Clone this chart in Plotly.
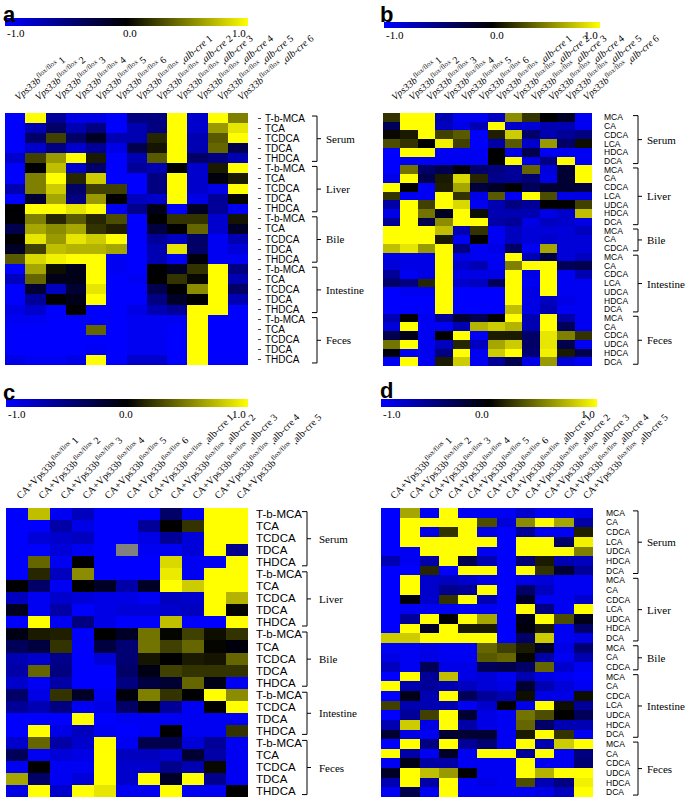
import plotly.graph_objects as go

W, H = 688, 798

# ---------------- data ----------------
a_cols = ["<i>Vps33b</i><sup>flox/flox</sup> %d" % i for i in range(1, 7)] + \
         ["<i>Vps33b</i><sup>flox/flox</sup> ,<i>alb-cre</i> %d" % i for i in range(1, 7)]
a_rows = ["T-b-MCA", "TCA", "TCDCA", "TDCA", "THDCA"] * 5
a_groups = [("Serum", 5), ("Liver", 5), ("Bile", 5), ("Intestine", 5), ("Feces", 5)]
a_z = [
    [-1, 1, -0.6, -0.9, -0.9, -1, -0.5, -0.5, 1, -0.8, 1, 0.5],
    [-1, -0.7, -0.4, -0.7, -0.5, -1, -0.7, -0.5, 1, -0.8, 0.6, 0.9],
    [-1, -0.4, 0.25, -0.4, -0.15, -0.7, -0.7, 0.15, 1, -0.7, 0.35, 1],
    [-1, -0.8, -0.5, -0.8, -0.6, -0.9, -0.3, 0.08, 1, -0.7, 0.4, -0.3],
    [-0.8, 0.25, 0.6, 1, 0.1, -1, -0.7, 0.35, 1, -0.4, -0.5, -0.7],
    [-1, 0, 0.75, -0.8, -0.4, -1, -0.6, -0.7, 0, -0.8, 0.1, 1],
    [-1, 0.5, 1, 0.15, 0.8, -1, -1, -0.5, 1, -0.8, -0.05, 0.1],
    [-0.7, 0.5, 0.8, -0.4, 0.25, 0.25, -1, -0.5, 1, -0.8, -0.9, 1],
    [-1, -0.2, 0.65, -0.5, 0.6, 0, -0.75, -0.8, 1, -0.9, -0.6, 0.02],
    [0, 1, 1, 0.9, 1, -0.95, -0.55, -0.1, -1, -0.15, -0.6, -0.95],
    [-0.02, 0.5, 0.15, 0.35, 0.15, 0.3, -1, 0, 0.2, 0.2, -0.8, 0.08],
    [-0.3, 0.65, 0.55, 0.65, 0.2, 0.12, -1, -0.25, 0, 0.4, -0.8, -0.15],
    [0, 0.9, 0.6, 0.9, 0.8, 1, -1, -0.6, -0.75, -0.4, -0.95, -0.7],
    [-0.15, 0.25, 0.75, 0.7, 0.7, 0.65, -1, -0.7, 0.9, -0.4, -0.95, -0.85],
    [0.35, 0.85, 0.95, 1, 1, -0.95, -1, -0.7, -0.95, -0.05, -0.95, -0.95],
    [-1, 0.65, 0.05, -0.1, 1, -0.95, -1, 0, -0.15, 0.2, 1, -0.5],
    [-0.75, 0.4, -0.1, -0.1, 1, -1, -0.95, 0, 0.2, 0.03, 1, -0.7],
    [-1, -0.2, -0.75, -0.2, 0.9, -1, -1, -0.3, 0, 0.55, 1, -0.4],
    [-1, -0.6, 0, -0.1, 1, -1, -1, -0.5, -0.15, 0, 1, -0.7],
    [-0.9, -0.8, -1, 0, -1, -1, -0.9, -0.7, -0.6, 1, 1, -1],
    [-0.95, -0.95, -1, -1, -1, -1, -0.95, -0.95, -0.95, 1, -1, -1],
    [-1, -1, -1, -1, 0.4, -1, -0.95, -0.95, -1, 1, -1, -1],
    [-1, -1, -1, -1, -1, -1, -0.95, -0.95, -1, 1, -1, -1],
    [-1, -1, -1, -1, -0.95, -1, -0.95, -0.95, -1, 1, -1, -1],
    [-0.9, -0.95, -0.95, -0.9, 1, -1, -0.8, -0.8, -1, 1, -1, -1],
]

b_cols = a_cols
b_rows = ["MCA", "CA", "CDCA", "LCA", "HDCA", "DCA",
          "MCA", "CA", "CDCA", "LCA", "UDCA", "HDCA", "DCA",
          "MCA", "CA", "CDCA",
          "MCA", "CA", "CDCA", "LCA", "UDCA", "HDCA", "DCA",
          "MCA", "CA", "CDCA", "UDCA", "HDCA", "DCA"]
b_groups = [("Serum", 6), ("Liver", 7), ("Bile", 3), ("Intestine", 7), ("Feces", 6)]
b_z = [
    [0.2, 1, 1, -0.7, -0.95, -0.95, -0.75, 0.55, 0.2, 0, -0.15, -0.95],
    [-0.35, 1, 1, -0.75, -0.9, -0.7, 1, -0.8, -0.85, -0.7, -0.7, -0.95],
    [0.03, 0.1, 1, 0.25, 0.35, -1, 0.12, 0.8, -0.4, -0.7, -0.6, -0.5],
    [0.3, 0.2, 0, 0.95, 0.25, -1, -0.65, 0.35, -0.8, 0.6, -0.4, 0.05],
    [-1, 1, 1, -0.95, -0.95, -0.95, 0, -0.9, -0.3, -0.95, -0.95, -0.95],
    [-1, -0.95, -0.95, -0.95, -0.95, -0.95, 0, 1, -0.9, -0.5, 1, -0.95],
    [-1, 0.45, -0.4, -0.3, -0.05, -0.4, -0.5, -0.6, 0.4, -0.85, -0.2, 1],
    [-0.9, 1, -0.3, 0.1, 0.85, 0.15, -0.55, -0.6, -0.45, -0.9, -0.2, 1],
    [1, 0, -0.95, 0.12, 0.65, -0.25, -0.15, 0, -0.35, -0.2, -0.2, -0.25],
    [0.2, -0.95, -0.95, 1, 0.2, -0.9, 0.35, -0.95, 1, 0.3, -0.9, -0.9],
    [-0.65, 1, 0.25, 1, 0.85, -0.95, -0.7, -0.5, -0.6, 0, 0, 0.25],
    [-0.9, 1, 0.45, -0.15, 1, 0.05, -0.7, -0.7, -0.7, -0.9, -0.8, 0.75],
    [-0.6, 1, -0.3, 0.55, 1, 1, -0.65, -0.6, -0.9, -0.75, -0.8, -0.9],
    [1, 1, 1, 0.75, -0.7, 0.2, -0.95, -0.75, -0.85, -0.85, -0.85, -0.75],
    [1, 1, 1, 0.1, -0.95, 0, -0.95, -0.75, -0.85, -0.8, -0.85, -0.85],
    [0.75, 0.9, 0.6, 1, -0.5, -0.95, -0.9, -0.4, -0.95, 0.65, -0.85, -0.85],
    [-0.9, -0.9, -0.9, 1, -0.9, -0.95, -0.95, 1, -0.7, -0.25, -0.85, -0.75],
    [-0.85, -0.9, -0.9, 1, -0.8, -0.7, -0.95, 0.5, 1, 1, -0.35, -0.3],
    [-0.6, -0.95, -0.9, 1, -0.9, -0.9, -0.9, 1, -0.9, 1, -0.95, -0.7],
    [-0.4, -0.5, 0.15, 1, -0.8, -0.75, -0.35, 1, -0.95, 1, -0.95, -0.95],
    [-1, -0.95, -0.95, 1, -1, -1, -1, 1, -0.9, 1, -0.95, -0.95],
    [-1, -1, -1, 1, -1, -1, -1, 1, -0.9, -0.75, -0.9, -0.95],
    [-1, -1, -1, 1, -1, -1, -1, 0.75, -0.9, -0.7, -0.95, -0.95],
    [-0.7, 0, -0.95, -0.6, -0.2, -0.3, 0, 1, -0.7, 1, -0.65, -0.95],
    [-0.85, 1, -0.95, -0.95, -0.7, 0.7, 0.8, 0.7, -0.7, 1, -0.35, -0.95],
    [-0.3, -0.1, -0.95, 0, 1, -0.95, 0.1, 0.1, -0.4, 0.9, 0.5, 0.2],
    [0.45, 1, -0.95, -0.75, 0.15, -0.75, 0.65, 0.8, -0.4, 0.9, -0.3, -0.95],
    [-0.05, -0.95, -0.95, -0.5, 1, -0.95, 0.8, 1, -0.45, 0.95, 0.1, -0.3],
    [-0.95, 1, -0.95, 0.1, 0.8, -0.95, -0.6, -0.3, -0.9, 0.6, -0.85, -0.95],
]

c_cols = ["CA+Vps33b<sup>flox/flox</sup> %d" % i for i in range(1, 7)] + \
         ["CA+Vps33b<sup>flox/flox</sup> ,alb-cre %d" % i for i in range(1, 6)]
c_rows = ["T-b-MCA", "TCA", "TCDCA", "TDCA", "THDCA",
          "T-b-MCA", "TCA", "TCDCA", "TDCA", "THDCA",
          "T-b-MCA", "TCA", "TCDCA", "TDCA", "THDCA",
          "T-b-MCA", "TCDCA", "TDCA", "THDCA",
          "T-b-MCA", "TCA", "TCDCA", "TDCA", "THDCA"]
c_groups = [("Serum", 5), ("Liver", 5), ("Bile", 5), ("Intestine", 4), ("Feces", 5)]
NA = None
c_z = [
    [-1, 0.75, -0.95, -0.75, -1, -1, -1, -0.4, -0.95, 1, 1],
    [-1, -1, -0.65, -0.9, -1, -1, -0.6, 0, 0.2, 1, 1],
    [-1, -0.85, -0.8, -0.75, -1, -1, -0.9, -0.6, -0.85, 1, 1],
    [-1, -1, -0.85, -0.95, -1, NA, -0.95, -0.95, -0.85, 1, -0.55],
    [-1, 0.4, -0.95, 0, -1, -1, -1, 0.85, -0.95, -0.95, 1],
    [-1, 0.15, -0.75, 0.55, -1, -1, -1, 0.92, -0.95, 1, 1],
    [0, -0.4, -0.95, 0, -0.15, -0.65, -0.15, 1, 0.8, 1, 1],
    [-0.75, -0.95, -0.8, -0.85, -0.9, -0.9, -0.95, -0.75, -0.8, 1, 0.7],
    [-0.12, -0.95, -0.65, -1, -0.9, -0.85, -0.85, -0.8, -0.75, 1, 0.02],
    [-1, 1, -0.95, -0.5, -0.9, -1, -1, 0.75, -1, -1, 1],
    [-0.08, 0.1, 0.12, -1, 0, -0.15, 0.45, 0.02, 0.25, 0.05, 0.2],
    [-0.35, -0.25, 0.2, -1, -0.25, -0.45, 0.45, 0.25, 0.4, 0.02, -0.05],
    [-0.7, -0.8, -0.55, -1, -0.85, -0.45, 0.08, 0, 0.1, 0.08, 0.4],
    [-0.65, 0.4, -0.5, -1, -1, -0.4, -0.08, 0.25, 0.2, 0.2, 0.2],
    [-0.8, -0.95, -0.65, -1, -1, -0.5, -0.25, -0.2, 0.4, -0.1, -0.95],
    [-0.4, -0.9, 0.2, -0.15, -0.95, -0.05, 0.5, 0.2, 0, 1, 0.55],
    [-0.6, -0.7, -0.5, -0.95, -0.9, -0.4, -0.05, -0.6, -0.95, 0, 1],
    [-1, -1, -1, 1, -1, -0.95, -0.95, -0.95, -0.95, -0.95, -0.95],
    [-1, 1, -0.9, -0.75, -0.95, -1, -0.95, 0, -0.95, -0.95, 0.2],
    [-0.8, 0.4, -0.65, -0.8, 1, -0.95, -0.3, -0.3, -0.85, -0.6, -0.95],
    [-0.35, -0.95, -0.85, -0.9, 1, -0.75, -0.75, -0.8, -0.2, -0.65, -0.95],
    [-0.95, 0, -0.95, -0.95, 1, -0.8, -0.8, -0.55, -0.7, 0.03, -0.95],
    [0.65, -0.4, -0.95, -0.85, 1, -0.8, 1, -0.15, 1, -0.55, -0.95],
    [-0.9, 1, -0.8, 1, 0.9, -0.95, -0.95, 1, -0.95, -0.95, 0],
]

d_cols = c_cols
d_rows = ["MCA", "CA", "CDCA", "LCA", "UDCA", "HDCA", "DCA",
          "MCA", "CA", "CDCA", "LCA", "UDCA", "HDCA", "DCA",
          "MCA", "CA", "CDCA",
          "MCA", "CA", "CDCA", "LCA", "UDCA", "HDCA", "DCA",
          "MCA", "CA", "CDCA", "UDCA", "HDCA", "DCA"]
d_groups = [("Serum", 7), ("Liver", 7), ("Bile", 3), ("Intestine", 7), ("Feces", 6)]
d_z = [
    [-1, 0.65, -0.95, 1, -0.95, -0.95, -0.95, -0.8, -0.95, -0.95, -0.9],
    [-1, 1, 1, 1, 1, 0.3, -0.85, 0.55, 1, 0.65, -0.65],
    [-1, 1, -0.9, 0.2, 1, -0.9, -1, -0.6, -0.95, -0.95, 0.12],
    [-1, 1, 1, 1, 1, 1, -1, 1, 1, -0.4, 0.95],
    [-1, -0.95, 1, 1, 1, -0.95, -1, 1, 1, 1, 0.5],
    [-0.7, -0.95, -0.65, 1, -0.3, -0.7, -1, -0.45, 0.1, -0.7, -0.75],
    [-1, -1, 0.15, -1, 1, 1, -1, 1, 0.2, -0.2, -0.6],
    [-1, 1, -0.8, -0.75, -0.8, -0.9, -1, -0.9, -0.85, -0.95, -0.95],
    [-1, 1, -0.8, -0.55, -0.6, 1, -1, -0.4, -0.75, -0.95, -0.95],
    [-1, -0.05, -0.8, 0.2, 1, -0.7, -1, -0.15, -0.95, -0.95, -0.8],
    [-1, -0.95, -0.95, -0.95, -0.95, -0.95, -1, 1, -0.5, -0.95, 1],
    [-1, -0.6, 1, 0, 1, 0.65, -1, -0.08, 1, 0.3, -0.1],
    [-1, 1, -0.15, 1, 0.1, 0.1, -1, -0.05, 0.1, -0.95, -0.4],
    [0.8, 0.8, 1, 1, 1, 1, -1, -0.4, 0.8, -0.95, -0.9],
    [-0.95, -0.95, -0.9, -0.95, -0.95, 0.4, 0.25, 0.1, -0.15, -0.9, -0.45],
    [-0.9, -0.95, -0.9, -0.95, -0.95, 0.35, 0.4, 0.02, -0.65, -0.95, -0.7],
    [-0.75, -0.95, -0.35, -0.9, -0.9, -0.35, -0.3, -0.4, 0.4, -0.8, -0.95],
    [-1, 1, -0.6, 0.75, -0.9, -0.85, -0.95, -0.7, -0.9, -0.95, -1],
    [1, -0.7, -0.6, -0.7, -0.75, -0.85, -0.9, -0.2, -0.7, -0.85, -0.95],
    [-1, -0.1, -0.7, 1, -0.35, -0.6, -0.7, 0.05, -0.9, -0.9, 0.05],
    [0.25, -0.7, -0.7, -0.7, -0.95, -0.8, 0, -0.9, 1, 0.05, -0.6],
    [-1, -0.6, 0.25, 1, -0.2, -0.9, -0.95, 0.45, 0.3, 0, -0.35],
    [-0.7, 0.8, -0.9, 1, -0.65, -0.9, -0.95, 0.4, -0.4, -0.7, -0.7],
    [-0.2, -0.9, -0.95, -0.2, -0.2, -0.2, -0.95, 0.1, 1, 0.2, -0.95],
    [-1, 1, -0.5, 1, -0.6, -0.45, -0.95, 1, -0.7, 0.8, 1],
    [1, -0.65, -0.95, -0.15, -0.95, 1, 1, -0.6, 1, -0.95, -0.5],
    [-0.95, -0.1, -0.65, -0.65, -0.95, -0.95, -0.95, 1, -0.95, -0.95, -0.45],
    [-0.15, 1, 0.75, 0.6, -0.02, -0.95, -0.95, 1, 0.7, 1, 1],
    [-0.7, 1, -0.65, 1, -0.95, -0.9, -0.95, 0.3, -0.7, -0.5, 0.95],
    [-0.95, -0.3, -0.95, 1, -0.95, -0.95, -0.95, -0.95, -0.9, -0.75, 1],
]

cbar_ticks = ["-1.0", "0.0", "1.0"]

# ---------------- layout helpers ----------------
def fx(p):
    return p / W

def fy(p):
    return 1 - p / H

SCALE = [[0, "#0000ff"], [0.5, "#000000"], [1, "#ffff00"]]
SERIF = "Liberation Serif"
SANS = "Liberation Sans"

panels = [
    dict(letter="a", z=a_z, cols=a_cols, rows=a_rows, groups=a_groups,
         box=(5, 248, 113, 365), cbar=(5, 248, 18, 26), cbl_y=33, cbl_mid=130,
         rowfont=10, rowx=263, tick=True, br_x=317, lab_x=324, xstand=8, ang=-40,
         letter_pos=(1, 0)),
    dict(letter="b", z=b_z, cols=b_cols, rows=b_rows, groups=b_groups,
         box=(383, 592, 113, 366), cbar=(384, 600, 22, 28), cbl_y=35, cbl_mid=497,
         rowfont=8.5, rowx=603, tick=False, br_x=638, lab_x=645, xstand=8, ang=-40,
         letter_pos=(378, 0)),
    dict(letter="c", z=c_z, cols=c_cols, rows=c_rows, groups=c_groups,
         box=(6, 248, 508, 797), cbar=(6, 248, 399, 407), cbl_y=414, cbl_mid=126,
         rowfont=11.5, rowx=255, tick=False, br_x=307, lab_x=317, xstand=4, ang=-45,
         letter_pos=(1, 378)),
    dict(letter="d", z=d_z, cols=d_cols, rows=d_rows, groups=d_groups,
         box=(381, 593, 508, 797), cbar=(381, 597, 399, 407), cbl_y=414, cbl_mid=482,
         rowfont=8.5, rowx=605, tick=False, br_x=638, lab_x=645, xstand=4, ang=-45,
         letter_pos=(378, 376)),
]

fig = go.Figure()
layout = dict(width=W, height=H,
              margin=dict(l=0, r=0, t=0, b=0, autoexpand=False),
              paper_bgcolor="white", plot_bgcolor="#808080", showlegend=False)
annotations = []
shapes = []

for i, p in enumerate(panels):
    n = i + 1
    xs = "" if n == 1 else str(n)
    x0, x1, y0, y1 = p["box"]
    nrows, ncols = len(p["rows"]), len(p["cols"])
    c0, c1, cy0, cy1 = p["cbar"]
    fig.add_trace(go.Heatmap(
        z=p["z"], x=list(range(ncols)), y=list(range(nrows)),
        colorscale=SCALE, zmin=-1, zmax=1, xaxis="x" + xs, yaxis="y" + xs,
        hoverongaps=False,
        colorbar=dict(orientation="h", x=fx(c0), xanchor="left",
                      y=fy(cy0), yanchor="top", len=c1 - c0, lenmode="pixels",
                      thickness=cy1 - cy0, thicknessmode="pixels",
                      outlinewidth=0, xpad=0, ypad=0, showticklabels=False,
                      ticks=""),
    ))
    layout["xaxis" + xs] = dict(
        domain=[fx(x0), fx(x1)], anchor="y" + xs, side="top",
        range=[-0.5, ncols - 0.5], tickvals=list(range(ncols)), ticktext=p["cols"],
        tickangle=p["ang"], ticks="", showgrid=False, zeroline=False, showline=False,
        ticklabelstandoff=p["xstand"], automargin=False, ticklabeloverflow="allow",
        tickfont=dict(family=SERIF, size=10, color="black"))
    ya = dict(
        domain=[fy(y1), fy(y0)], side="right", automargin=False,
        ticklabeloverflow="allow",
        range=[nrows - 0.5, -0.5], tickvals=list(range(nrows)), ticktext=p["rows"],
        showgrid=False, zeroline=False, showline=False,
        tickfont=dict(family=SANS, size=p["rowfont"], color="black"))
    if p["tick"]:
        ya.update(anchor="free", position=fx(257), ticks="outside", ticklen=3,
                  tickcolor="#444", tickwidth=1, ticklabelstandoff=2)
    else:
        ya.update(anchor="x" + xs, ticks="", ticklabelstandoff=p["rowx"] - x1)
    layout["yaxis" + xs] = ya

    # colorbar labels
    for txt, xx, anc in zip(cbar_ticks, [c0, p["cbl_mid"], c1], ["left", "center", "right"]):
        annotations.append(dict(text=txt, x=fx(xx), y=fy(p["cbl_y"]), xref="paper",
                                yref="paper", xanchor=anc, yanchor="middle",
                                showarrow=False,
                                font=dict(family=SERIF, size=11, color="black")))
    # panel letter
    lx, ly = p["letter_pos"]
    annotations.append(dict(text="<b>%s</b>" % p["letter"], x=fx(lx), y=fy(ly),
                            xref="paper", yref="paper", xanchor="left", yanchor="top",
                            showarrow=False,
                            font=dict(family=SANS, size=22, color="black")))
    # group brackets
    start = 0
    bx = p["br_x"]
    for gname, cnt in p["groups"]:
        top = start - 0.2
        bot = start + cnt - 1 + 0.3
        mid = (top + bot) / 2
        path = "M %f,%f L %f,%f L %f,%f L %f,%f M %f,%f L %f,%f" % (
            fx(bx - 5), top, fx(bx), top, fx(bx), bot, fx(bx - 5), bot,
            fx(bx), mid, fx(bx + 4), mid)
        shapes.append(dict(type="path", path=path, xref="paper", yref="y" + xs,
                           line=dict(color="black", width=1)))
        annotations.append(dict(text=gname, x=fx(p["lab_x"]), y=mid, xref="paper",
                                yref="y" + xs, xanchor="left", yanchor="middle",
                                showarrow=False,
                                font=dict(family=SERIF, size=11, color="black")))
        start += cnt

layout["annotations"] = annotations
layout["shapes"] = shapes
fig.update_layout(**layout)
fig.write_html("out.html", config={"displayModeBar": False},
               post_script="document.body.style.margin='0';document.body.style.padding='0';")
